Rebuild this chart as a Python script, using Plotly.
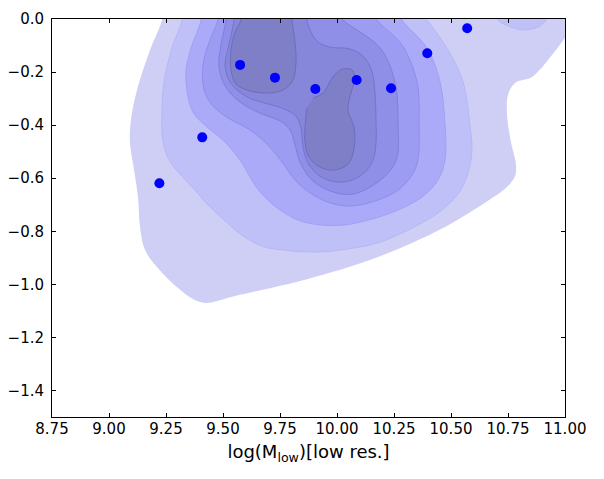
import plotly.graph_objects as go

# ---- scatter points ----
pts_x = [9.221, 9.409, 9.575, 9.728, 9.905, 10.086, 10.237, 10.396, 10.571]
pts_y = [-0.619, -0.446, -0.173, -0.221, -0.264, -0.230, -0.261, -0.129, -0.035]

# ---- axis ticks ----
x_ticks = [8.75, 9.0, 9.25, 9.5, 9.75, 10.0, 10.25, 10.5, 10.75, 11.0]
x_labels = ["8.75", "9.00", "9.25", "9.50", "9.75", "10.00", "10.25", "10.50", "10.75", "11.00"]
y_ticks = [-1.4, -1.2, -1.0, -0.8, -0.6, -0.4, -0.2, 0.0]
y_labels = ["\u22121.4", "\u22121.2", "\u22121.0", "\u22120.8", "\u22120.6", "\u22120.4", "\u22120.2", "0.0"]

# ---- density contour boundaries, outermost first ----
lvl1_x = [9.232, 9.232, 9.180, 9.123, 9.096, 9.092, 9.110, 9.127, 9.136, 9.158, 9.215, 9.303, 9.368, 9.425,
          9.553, 9.728, 9.838, 10.035, 10.180, 10.329, 10.474, 10.592, 10.680, 10.750, 10.781, 10.785,
          10.763, 10.746, 10.750, 10.781, 10.855, 10.943, 11.000, 11.044, 11.044]
lvl1_y = [0.034, -0.004, -0.117, -0.268, -0.381, -0.467, -0.569, -0.671, -0.784, -0.871, -0.939, -1.014,
          -1.055, -1.070, -1.044, -1.010, -0.987, -0.939, -0.897, -0.844, -0.784, -0.724, -0.675, -0.629,
          -0.592, -0.550, -0.464, -0.362, -0.286, -0.241, -0.219, -0.136, -0.072, -0.023, 0.034]

bump_x = [10.697, 10.706, 10.750, 10.816, 10.882, 10.917, 10.925]
bump_y = [0.034, -0.004, -0.026, -0.041, -0.030, -0.004, 0.034]

lvl2_x = [9.320, 9.320, 9.276, 9.241, 9.232, 9.237, 9.268, 9.320, 9.377, 9.434, 9.496, 9.575, 9.671, 9.803,
          9.925, 10.048, 10.189, 10.329, 10.443, 10.531, 10.575, 10.592, 10.583, 10.553, 10.482, 10.395, 10.364]
lvl2_y = [0.034, -0.004, -0.109, -0.237, -0.362, -0.464, -0.539, -0.592, -0.645, -0.701, -0.750, -0.810,
          -0.856, -0.874, -0.878, -0.867, -0.841, -0.788, -0.731, -0.660, -0.580, -0.494, -0.400, -0.237,
          -0.109, -0.004, 0.034]

lvl3_x = [9.404, 9.404, 9.360, 9.338, 9.342, 9.368, 9.430, 9.513, 9.583, 9.649, 9.732, 9.829, 9.925, 10.035,
          10.154, 10.268, 10.373, 10.443, 10.474, 10.474, 10.452, 10.395, 10.285, 10.268]
lvl3_y = [0.034, -0.004, -0.109, -0.192, -0.268, -0.351, -0.407, -0.467, -0.543, -0.637, -0.709, -0.758,
          -0.776, -0.776, -0.754, -0.720, -0.671, -0.607, -0.531, -0.400, -0.237, -0.109, -0.004, 0.034]

lvl4_x = [9.482, 9.478, 9.443, 9.412, 9.417, 9.452, 9.522, 9.618, 9.697, 9.759, 9.816, 9.882, 9.969, 10.057,
          10.167, 10.268, 10.329, 10.355, 10.360, 10.351, 10.285, 10.175, 10.154]
lvl4_y = [0.034, -0.004, -0.079, -0.173, -0.268, -0.324, -0.373, -0.418, -0.475, -0.539, -0.607, -0.656,
          -0.693, -0.705, -0.686, -0.645, -0.588, -0.531, -0.400, -0.237, -0.098, -0.004, 0.034]

lvl5_x = [9.513, 9.513, 9.491, 9.482, 9.500, 9.539, 9.601, 9.671, 9.750, 9.794, 9.816, 9.838, 9.890, 9.982,
          10.070, 10.154, 10.224, 10.263, 10.268, 10.254, 10.189, 10.026, 9.991]
lvl5_y = [0.034, -0.004, -0.098, -0.173, -0.237, -0.286, -0.328, -0.358, -0.384, -0.418, -0.475, -0.539,
          -0.607, -0.652, -0.660, -0.629, -0.580, -0.524, -0.400, -0.237, -0.109, -0.004, 0.034]

lvl6_x = [9.548, 9.548, 9.526, 9.509, 9.526, 9.566, 9.627, 9.697, 9.768, 9.820, 9.842, 9.851, 9.873, 9.925,
          9.996, 10.066, 10.123, 10.158, 10.171, 10.171, 10.167, 10.154, 10.118, 10.057, 9.969, 9.917,
          9.886, 9.868, 9.864]
lvl6_y = [0.034, -0.004, -0.098, -0.173, -0.230, -0.271, -0.302, -0.320, -0.339, -0.366, -0.411, -0.482,
          -0.543, -0.592, -0.614, -0.607, -0.577, -0.531, -0.467, -0.381, -0.286, -0.200, -0.143, -0.113,
          -0.106, -0.087, -0.049, -0.004, 0.034]

peak1_x = [9.579, 9.579, 9.553, 9.535, 9.535, 9.557, 9.618, 9.693, 9.763, 9.807, 9.820, 9.816, 9.803, 9.803]
peak1_y = [0.034, -0.004, -0.049, -0.117, -0.192, -0.245, -0.271, -0.279, -0.268, -0.230, -0.162, -0.087,
           -0.004, 0.034]

peak2_x = [9.895, 9.939, 9.982, 10.022, 10.066, 10.079, 10.061, 10.048, 10.075, 10.075, 10.048, 9.991,
           9.925, 9.877, 9.860, 9.860, 9.868]
peak2_y = [-0.298, -0.279, -0.219, -0.189, -0.192, -0.222, -0.279, -0.343, -0.407, -0.487, -0.547, -0.569,
           -0.558, -0.520, -0.467, -0.407, -0.336]

fills = ["#CFCFF5", "#C0C0F8", "#AAAAF9", "#9C9CF3", "#8F8FE8", "#8686DB", "#7F7FC7"]
edges = ["#CFCFF5", "#B4B4F4", "#9E9EF2", "#8C8CEA", "#7C7CDC", "#7272CC", "#6A6ABA"]

fig = go.Figure()

def poly(xs, ys, k):
    fig.add_trace(go.Scatter(
        x=xs, y=ys, mode="lines", fill="toself", fillcolor=fills[k],
        line=dict(color=edges[k], width=0.9 if k > 0 else 0, shape="spline", smoothing=1.0),
        hoverinfo="skip", showlegend=False))

poly(lvl1_x, lvl1_y, 0)
poly(bump_x, bump_y, 1)
poly(lvl2_x, lvl2_y, 1)
poly(lvl3_x, lvl3_y, 2)
poly(lvl4_x, lvl4_y, 3)
poly(lvl5_x, lvl5_y, 4)
poly(lvl6_x, lvl6_y, 5)
poly(peak1_x, peak1_y, 6)
poly(peak2_x, peak2_y, 6)

fig.add_trace(go.Scatter(
    x=pts_x, y=pts_y, mode="markers",
    marker=dict(color="#0000FF", size=10, line=dict(width=0)),
    hoverinfo="skip", showlegend=False))

axis_common = dict(
    ticks="inside", ticklen=4, tickwidth=1, tickcolor="black",
    showline=True, linecolor="black", linewidth=1, mirror="allticks",
    showgrid=False, zeroline=False, automargin=False,
    tickfont=dict(family="DejaVu Sans", size=15, color="black"),
)

fig.update_layout(
    width=604, height=479,
    margin=dict(l=44, r=47, t=11, b=70),
    paper_bgcolor="white", plot_bgcolor="white",
    xaxis=dict(range=[8.75, 11.0], tickmode="array", tickvals=x_ticks, ticktext=x_labels,
               title=dict(text="log(M<sub>low</sub>)[low res.]",
                          font=dict(family="DejaVu Sans", size=18, color="black"), standoff=8),
               ticklabelstandoff=-2, **axis_common),
    yaxis=dict(range=[-1.5, 0.0], tickmode="array", tickvals=y_ticks, ticktext=y_labels,
               ticklabelstandoff=4, **axis_common),
)

fig.write_html("out.html")
